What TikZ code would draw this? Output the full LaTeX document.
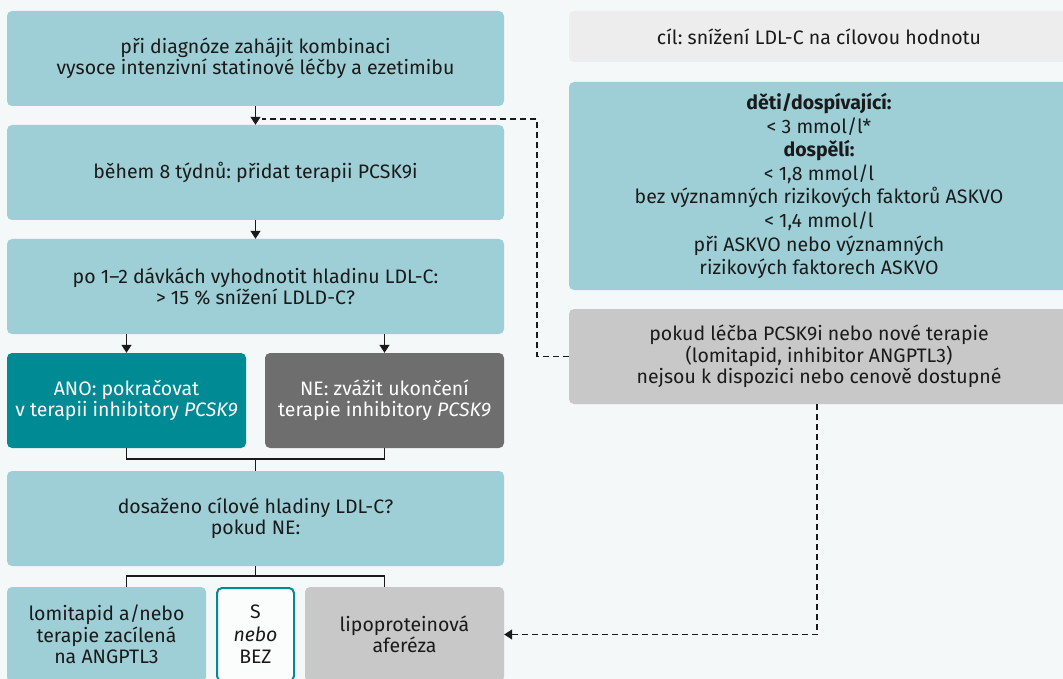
\documentclass[tikz,border=0pt]{standalone}
\usepackage{fontspec}
\setmainfont{Fira Sans}
\usetikzlibrary{arrows.meta}
\definecolor{bg}{HTML}{F4F8F8}
\definecolor{lteal}{HTML}{9FCFD6}
\definecolor{dteal}{HTML}{008A93}
\definecolor{dgray}{HTML}{6E6E6E}
\definecolor{lgray}{HTML}{C8C8C8}
\definecolor{goalgray}{HTML}{EDEDED}
\definecolor{ink}{HTML}{1A1A1A}
\frenchspacing
\begin{document}
\begin{tikzpicture}[x=1pt,y=-1pt,
  box/.style={rounded corners=5pt, inner sep=0pt, align=center, text=ink,
    font=\fontsize{19.5}{21.5}\selectfont, minimum height=95pt},
  lbox/.style={box, fill=lteal},
  arr/.style={line width=1.2pt, draw=ink, -{Triangle[length=8pt,width=10pt]}},
  conn/.style={line width=1.2pt, draw=ink},
  dashconn/.style={line width=1.2pt, draw=ink, dash pattern=on 6pt off 4pt}
]
\useasboundingbox (0,0) rectangle (1063,679);
\clip (0,0) rectangle (1063,679);
\fill[bg] (0,0) rectangle (1063,679);

% left column
\node[lbox, minimum width=497pt] (b1) at (255.5,58.5) {při diagnóze zahájit kombinaci\\vysoce intenzivní statinové léčby a ezetimibu};
\node[lbox, minimum width=497pt] (b2) at (255.5,172.5) {během 8 týdnů: přidat terapii PCSK9i};
\node[lbox, minimum width=497pt] (b3) at (255.5,286.5) {po 1–2 dávkách vyhodnotit hladinu LDL-C:\\> 15 \% snížení LDLD-C?};
\node[box, fill=dteal, text=white, minimum width=239pt] (ano) at (126.5,400.5) {ANO: pokračovat\\v terapii inhibitory \textit{PCSK9}};
\node[box, fill=dgray, text=white, minimum width=239pt] (ne) at (384.5,400.5) {NE: zvážit ukončení\\terapie inhibitory \textit{PCSK9}};
\node[lbox, minimum width=497pt] (b4) at (255.5,518.5) {dosaženo cílové hladiny LDL-C?\\pokud NE:};
\node[lbox, minimum width=199pt] (b5a) at (106.5,634.5) {lomitapid a/nebo\\terapie zacílená\\na ANGPTL3};
\node[box, fill=white!60!bg, draw=dteal, line width=2pt, minimum width=77pt, minimum height=93pt,
  font=\fontsize{19.5}{22.5}\selectfont] (b5b) at (255.5,634.5) {S\\\textit{nebo}\\BEZ};
\node[box, fill=lgray, minimum width=199pt] (b5c) at (404.5,634.5) {lipoproteinová\\aferéza};

% right column
\node[box, fill=goalgray, minimum width=500pt, minimum height=51pt] (goal) at (819,36.5) {cíl: snížení LDL-C na cílovou hodnotu};
\node[lbox, minimum width=500pt, minimum height=208pt, font=\fontsize{19.5}{23.6}\selectfont] (targets) at (819,186)
  {\textbf{děti/dospívající:}\\< 3 mmol/l*\\\textbf{dospělí:}\\< 1,8 mmol/l\\bez významných rizikových faktorů ASKVO\\< 1,4 mmol/l\\při ASKVO nebo významných\\rizikových faktorech ASKVO};
\node[box, fill=lgray, minimum width=500pt] (pcsk) at (819,356.5) {pokud léčba PCSK9i nebo nové terapie\\(lomitapid, inhibitor ANGPTL3)\\nejsou k dispozici nebo cenově dostupné};

% connectors
\coordinate (dcorner) at (537,119);
\coordinate (dend) at (262,119);
\coordinate (j1) at (255.5,459);
\coordinate (j2) at (255.5,576);
\coordinate (dlow) at (817,404);

\draw[arr] (b1) -- (b2);
\draw[dashconn] (pcsk.west) -| (dcorner) -- (dend);
\draw[arr] (b2) -- (b3);
\draw[arr] (b3.south -| ano.north) -- (ano.north);
\draw[arr] (b3.south -| ne.north) -- (ne.north);
\draw[conn] (ano.south) |- (j1) -| (ne.south);
\draw[conn] (j1) -- (b4.north);
\draw[conn] (b4.south) -- (j2);
\draw[conn] (ano.center |- b5a.north) |- (j2) -| (ne.center |- b5c.north);
\draw[dashconn, -{Triangle[length=8pt,width=10pt]}] (dlow) |- (b5c.east);
\end{tikzpicture}
\end{document}
